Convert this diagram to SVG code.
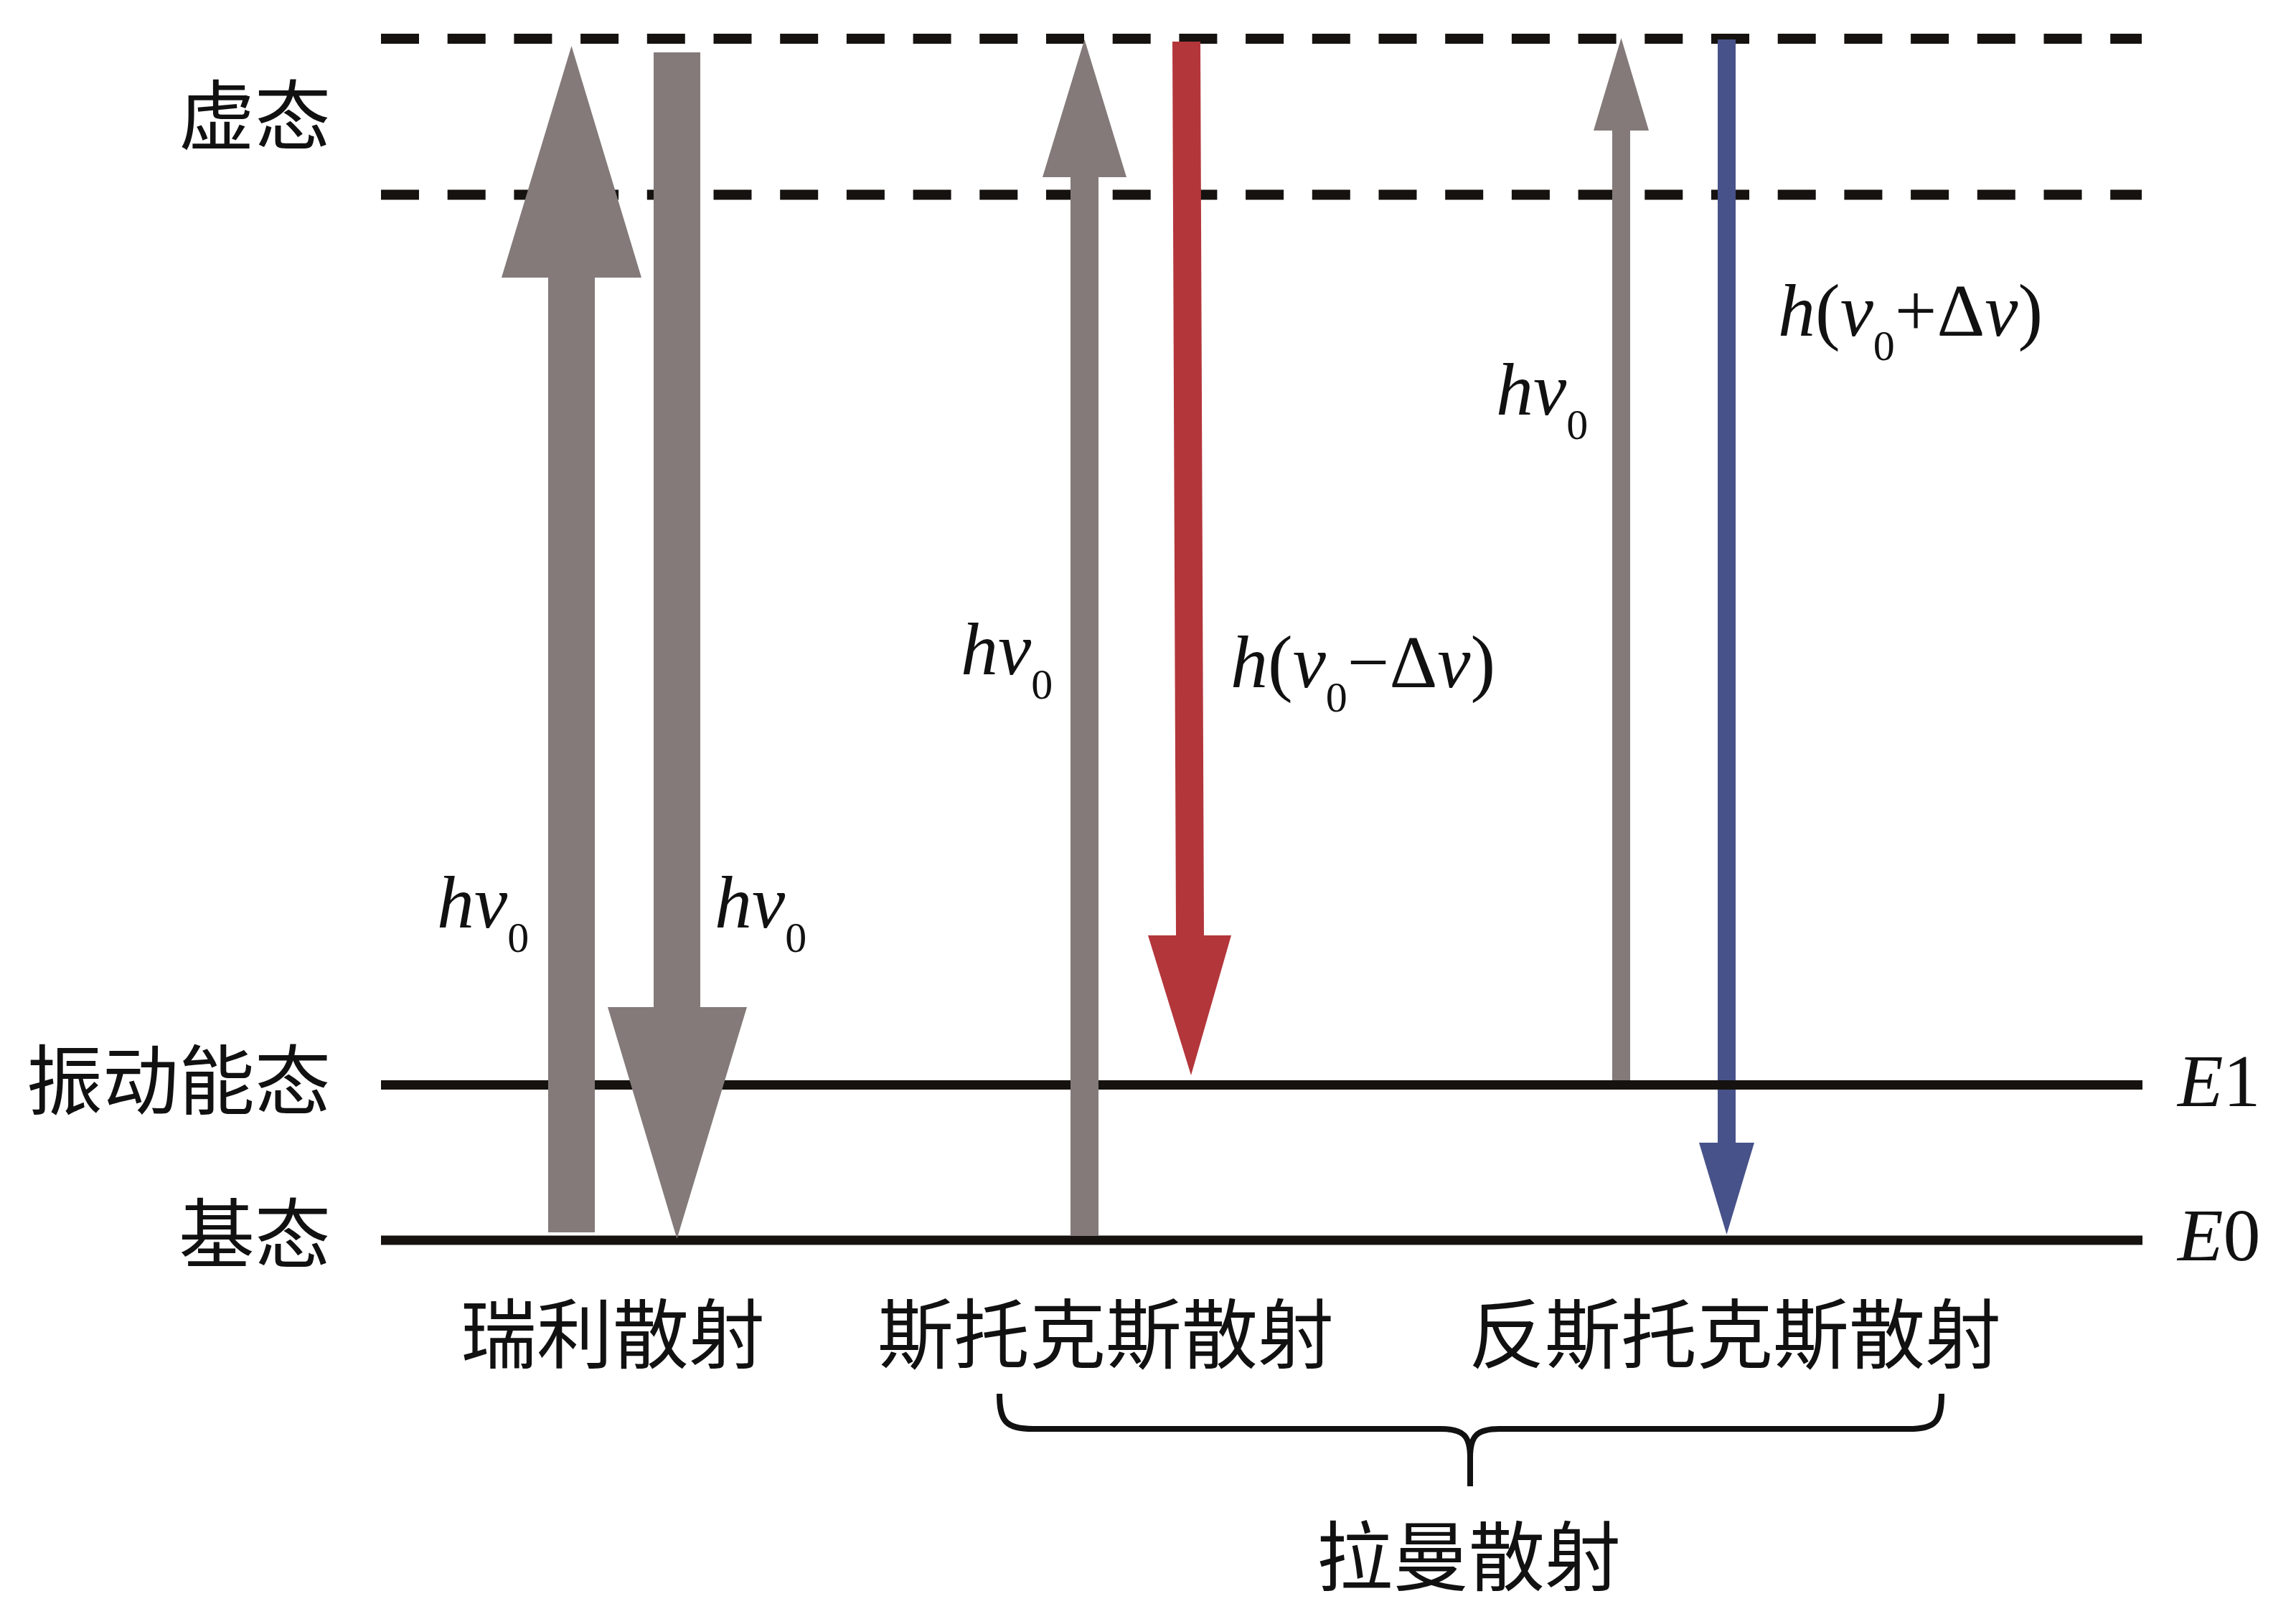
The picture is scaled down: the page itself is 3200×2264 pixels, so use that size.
<svg xmlns="http://www.w3.org/2000/svg" width="3200" height="2264" viewBox="0 0 3200 2264">
<style>
.lvl{stroke:#15120f;stroke-width:13;fill:none}
.dash{stroke:#15120f;stroke-width:14;fill:none;stroke-dasharray:53 39.7}
.gray{fill:#837a79}
.red{fill:#b3363b}
.blue{fill:#47528a}
.cjk{font-family:"Noto Sans CJK SC","Noto Sans CJK TC",sans-serif;font-size:106px;fill:#111}
.lat{font-family:"Liberation Serif","Times New Roman",serif;font-size:104px;fill:#111}
.it{font-style:italic}
.sub{font-size:60px}
</style>
<rect width="3200" height="2264" fill="#ffffff"/>
<g id="levels">
<line class="dash" x1="531" y1="54" x2="2985" y2="54"/>
<line class="dash" x1="531" y1="271.5" x2="2985" y2="271.5"/>
</g>
<g id="connectors">
<polygon class="blue" points="2394,55 2419,55 2419,1593 2445,1593 2406.5,1721 2368,1593 2394,1593"/>
<line class="lvl" x1="531" y1="1512.5" x2="2986" y2="1512.5"/>
<line class="lvl" x1="531" y1="1729" x2="2986" y2="1729"/>
<polygon class="gray" points="764,1718 764,387 699,387 796.5,64 894,387 829,387 829,1718"/>
<polygon class="gray" points="911,73 976,73 976,1404 1041,1404 943.5,1727 847,1404 911,1404"/>
<polygon class="gray" points="1492,1723 1492,247 1453,247 1511.5,55 1570,247 1531,247 1531,1723"/>
<polygon class="red" points="1634,58 1673,58 1678,1304 1716,1304 1660,1499 1600,1304 1639,1304"/>
<polygon class="gray" points="2247,1506 2247,182 2221,182 2259.5,53 2298,182 2272,182 2272,1506"/>
<path d="M1393,1943 C1393,1982 1402,1992 1440,1992 L2008,1992 C2040,1992 2049,2002 2049,2032 L2049,2072 M2049,2032 C2049,2002 2058,1992 2090,1992 L2660,1992 C2698,1992 2706,1982 2706,1943" fill="none" stroke="#111" stroke-width="8"/>
</g>
<g id="label-virtual"><text class="cjk" x="461" y="200" text-anchor="end">虚态</text></g>
<g id="label-vib"><text class="cjk" x="461" y="1545" text-anchor="end">振动能态</text></g>
<g id="label-ground"><text class="cjk" x="461" y="1759" text-anchor="end">基态</text></g>
<g id="label-E1"><text class="lat" x="3035" y="1542"><tspan class="it">E</tspan>1</text></g>
<g id="label-E0"><text class="lat" x="3035" y="1757"><tspan class="it">E</tspan>0</text></g>
<g id="label-rayleigh-in"><text class="lat" x="609" y="1293"><tspan class="it">hv</tspan><tspan class="sub" dy="34">0</tspan></text></g>
<g id="label-rayleigh-out"><text class="lat" x="996" y="1293"><tspan class="it">hv</tspan><tspan class="sub" dy="34">0</tspan></text></g>
<g id="label-stokes-in"><text class="lat" x="1339" y="940"><tspan class="it">hv</tspan><tspan class="sub" dy="34">0</tspan></text></g>
<g id="label-stokes-out"><text class="lat" x="1715" y="958"><tspan class="it">h</tspan>(<tspan class="it">v</tspan><tspan class="sub" dy="34">0</tspan><tspan dy="-34">−Δ</tspan><tspan class="it">v</tspan>)</text></g>
<g id="label-anti-in"><text class="lat" x="2085" y="578"><tspan class="it">hv</tspan><tspan class="sub" dy="34">0</tspan></text></g>
<g id="label-anti-out"><text class="lat" x="2478" y="468"><tspan class="it">h</tspan>(<tspan class="it">v</tspan><tspan class="sub" dy="34">0</tspan><tspan dy="-34">+Δ</tspan><tspan class="it">v</tspan>)</text></g>
<g id="label-rayleigh"><text class="cjk" x="854" y="1899" text-anchor="middle">瑞利散射</text></g>
<g id="label-stokes"><text class="cjk" x="1541" y="1899" text-anchor="middle">斯托克斯散射</text></g>
<g id="label-antistokes"><text class="cjk" x="2418" y="1899" text-anchor="middle">反斯托克斯散射</text></g>
<g id="label-raman"><text class="cjk" x="2047" y="2209" text-anchor="middle">拉曼散射</text></g>
</svg>
